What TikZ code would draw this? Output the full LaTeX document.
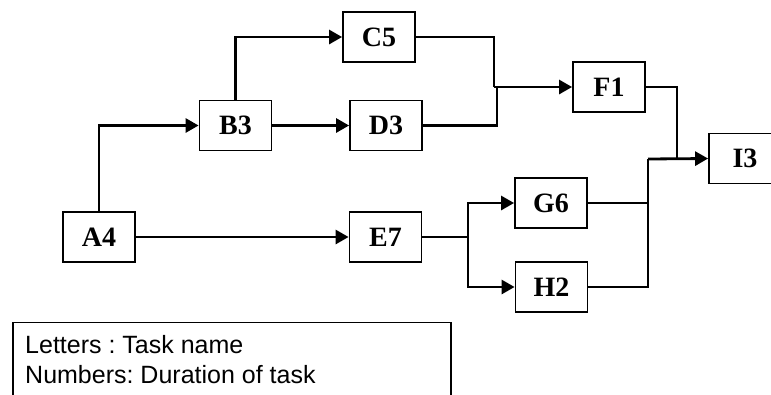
\documentclass[tikz,border=0pt]{standalone}
\usepackage{fontspec}
\setmainfont{Liberation Serif}
\newfontfamily\legendfont{Liberation Sans}
\usetikzlibrary{arrows.meta}
\frenchspacing
\begin{document}
\begin{tikzpicture}[x=1pt,y=-1pt,
  task/.style={draw,line width=1.8pt,minimum width=72pt,minimum height=50pt,inner sep=0pt,
    font=\fontsize{28}{28}\selectfont\bfseries},
  link/.style={line width=2.8pt},
  arr/.style={link,-{Triangle[length=13pt,width=14pt]}},
  legendtext/.style={anchor=base west,inner sep=0pt,font=\legendfont\fontsize{25}{25}\selectfont}]
\useasboundingbox (0,0) rectangle (771,394);
\clip (0,0) rectangle (771,394);
\node[task] (A4) at (99,237) {A4};
\node[task] (B3) at (235.5,125.5) {B3};
\node[task] (C5) at (379,37) {C5};
\node[task] (D3) at (386,125.5) {D3};
\node[task] (E7) at (385.5,237) {E7};
\node[task] (F1) at (609,87) {F1};
\node[task] (G6) at (551,203) {G6};
\node[task] (H2) at (551.5,287) {H2};
\node[task] (I3) at (745,158.5) {I3};
\coordinate (j1) at (494,87);
\coordinate (j2) at (497,87);
\coordinate (k1) at (677,159);
\coordinate (k2) at (648,159);
\coordinate (fork) at (468,237);
\draw[arr] (A4.north) |- (B3.west);
\draw[arr] (B3.north) |- (C5.west);
\draw[arr] (B3.east) -- (D3.west);
\draw[arr] (A4.east) -- (E7.west);
\draw[link] (C5.east) -| (j1);
\draw[link] (D3.east) -| (j2);
\draw[arr] (j1) -- (F1.west);
\draw[link] (F1.east) -| (k1);
\draw[link] (G6.east) -| (k2);
\draw[link] (H2.east) -| (k2);
\draw[arr] (k2) -- (I3.west);
\draw[link] (E7.east) -- (fork);
\draw[arr] (fork) |- (G6.west);
\draw[arr] (fork) |- (H2.west);
\coordinate (Lbl) at (13,400);
\coordinate (Ltl) at (13,322.5);
\coordinate (Ltr) at (451,322.5);
\coordinate (Lbr) at (451,400);
\draw[line width=1.6pt] (Lbl) -- (Ltl) -- (Ltr) -- (Lbr);
\node[legendtext] (L1) at (25,353) {Letters : Task name};
\node[legendtext] (L2) at (25,383) {Numbers: Duration of task};
\end{tikzpicture}
\end{document}
